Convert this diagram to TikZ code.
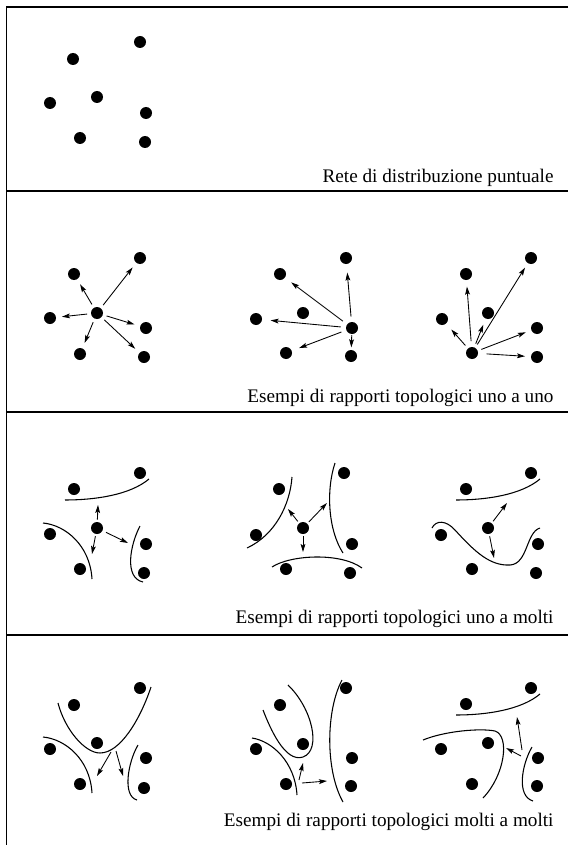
\documentclass[tikz,border=0pt]{standalone}
\usepackage{fontspec}
\setmainfont{Liberation Serif}
\usetikzlibrary{arrows.meta}

\tikzset{every picture/.style={line width=0.75pt}}
\tikzset{
  dot/.style={circle,fill=black,inner sep=0pt,outer sep=0pt,minimum size=9pt},
  arr/.style={line width=0.65pt,-{Stealth[length=6pt,width=3.6pt,inset=1.2pt]},shorten <=3pt,shorten >=4.5pt},
  toline/.style={arr,shorten <=1.8pt,shorten >=0pt},
  free/.style={arr,shorten <=0pt,shorten >=0pt},
  bound/.style={line width=0.8pt},
  caption/.style={anchor=base east,inner sep=0pt,font=\fontsize{14.4}{17}\selectfont}
}

\begin{document}
\begin{tikzpicture}[x=0.75pt,y=0.75pt,yscale=-1]
  \useasboundingbox (0,0) rectangle (568,845);

  %Frame
  \draw [line width=1.3pt] (568,7) -- (6.5,7) -- (6.5,845) ;
  \draw [line width=2pt] (6.5,191) -- (568,191) ;
  \draw [line width=2pt] (6.5,412) -- (568,412) ;
  \draw [line width=2pt] (6.5,635) -- (568,635) ;

  %Panel 1: points
  \node [dot] (ra) at (140,42) {};
  \node [dot] (rb) at (73,59) {};
  \node [dot] (rc) at (50,103) {};
  \node [dot] (rd) at (97,97) {};
  \node [dot] (re) at (146,113) {};
  \node [dot] (rf) at (80,138) {};
  \node [dot] (rg) at (145,142) {};

  %Panel 2: points
  \node [dot] (u1a) at (140,258) {};
  \node [dot] (u1b) at (74,274) {};
  \node [dot] (u1c) at (50,318) {};
  \node [dot] (u1d) at (97,313) {};
  \node [dot] (u1e) at (146,328) {};
  \node [dot] (u1f) at (80,354) {};
  \node [dot] (u1g) at (144,357) {};

  \node [dot] (u2a) at (346,258) {};
  \node [dot] (u2b) at (280,274) {};
  \node [dot] (u2c) at (256,319) {};
  \node [dot] (u2d) at (303,313) {};
  \node [dot] (u2e) at (352,328) {};
  \node [dot] (u2f) at (286,353) {};
  \node [dot] (u2g) at (351,356) {};

  \node [dot] (u3a) at (531,258) {};
  \node [dot] (u3b) at (466,274) {};
  \node [dot] (u3c) at (442,319) {};
  \node [dot] (u3d) at (488,313) {};
  \node [dot] (u3e) at (537,328) {};
  \node [dot] (u3f) at (472,353) {};
  \node [dot] (u3g) at (537,357) {};

  %Panel 2: arrows
  \draw [arr] (u1d) -- (u1a) ;
  \draw [arr] (u1d) -- (u1b) ;
  \draw [arr] (u1d) -- (u1c) ;
  \draw [arr] (u1d) -- (u1e) ;
  \draw [arr] (u1d) -- (u1f) ;
  \draw [arr] (u1d) -- (u1g) ;

  \draw [arr,shorten <=4pt,shorten >=6.5pt] (u2e) -- (u2a) ;
  \draw [arr,shorten <=4pt,shorten >=6pt] (u2e) -- (u2b) ;
  \draw [arr,shorten <=4pt,shorten >=6.5pt] (u2e) -- (u2c) ;
  \draw [arr,shorten <=4pt,shorten >=6pt] (u2e) -- (u2f) ;
  \draw [arr,shorten <=0.8pt,shorten >=2pt] (u2e) -- (u2g) ;

  \draw [arr,shorten >=6pt] (u3f) -- (u3c) ;
  \draw [arr,shorten <=4.5pt,shorten >=5pt] (u3f) -- (u3b) ;
  \draw [arr,shorten >=5pt] (u3f) -- (u3d) ;
  \draw [arr,shorten >=4pt] (u3f) -- (u3a) ;
  \draw [arr] (u3f) -- (u3e) ;
  \draw [arr,shorten <=6.5pt] (u3f) -- (u3g) ;

  %Panel 3: points
  \node [dot] (m1a) at (140,473) {};
  \node [dot] (m1b) at (74,489) {};
  \node [dot] (m1c) at (50,534) {};
  \node [dot] (m1d) at (97,528) {};
  \node [dot] (m1e) at (146,544) {};
  \node [dot] (m1f) at (80,569) {};
  \node [dot] (m1g) at (144,573) {};

  \node [dot] (m2a) at (344,473) {};
  \node [dot] (m2b) at (279,489) {};
  \node [dot] (m2c) at (256,535) {};
  \node [dot] (m2d) at (303,528) {};
  \node [dot] (m2e) at (352,544) {};
  \node [dot] (m2f) at (286,569) {};
  \node [dot] (m2g) at (350,573) {};

  \node [dot] (m3a) at (531,473) {};
  \node [dot] (m3b) at (466,489) {};
  \node [dot] (m3c) at (441,535) {};
  \node [dot] (m3d) at (488,528) {};
  \node [dot] (m3e) at (538,544) {};
  \node [dot] (m3f) at (472,569) {};
  \node [dot] (m3g) at (536,573) {};

  %Panel 3: curves
  \draw [bound] (65,500) .. controls (95,500) and (130,495) .. (149,479) ;
  \draw [bound] (43,523) .. controls (65,525) and (90,545) .. (92,579) ;
  \draw [bound] (140,526) .. controls (130,545) and (124,578) .. (143,582) ;

  \draw [bound] (292,477) .. controls (290,505) and (275,535) .. (247,548) ;
  \draw [bound] (335,463) .. controls (326,490) and (328,530) .. (343,553) ;
  \draw [bound] (272,567) .. controls (290,555) and (340,552) .. (362,568) ;

  \draw [bound] (456,500) .. controls (486,500) and (521,495) .. (540,479) ;
  \draw [bound] (432,528) .. controls (436,520) and (446,520) .. (455,530) .. controls (475,552) and (490,566) .. (510,565) .. controls (528,564) and (526,532) .. (540,528) ;

  %Panel 3: arrows
  \coordinate (m1t1) at (98,505) ;
  \coordinate (m1t2) at (92,554) ;
  \coordinate (m1t3) at (128,543) ;
  \draw [toline] (m1d) -- (m1t1) ;
  \draw [toline] (m1d) -- (m1t2) ;
  \draw [toline,shorten <=3pt] (m1d) -- (m1t3) ;

  \coordinate (m2t1) at (288,509) ;
  \coordinate (m2t2) at (327,503) ;
  \coordinate (m2t3) at (303,552) ;
  \draw [toline] (m2d) -- (m2t1) ;
  \draw [toline] (m2d) -- (m2t2) ;
  \draw [toline] (m2d) -- (m2t3) ;

  \coordinate (m3t1) at (507,503) ;
  \coordinate (m3t2) at (494,558) ;
  \draw [toline] (m3d) -- (m3t1) ;
  \draw [toline] (m3d) -- (m3t2) ;

  %Panel 4: points
  \node [dot] (mm1a) at (140,688) {};
  \node [dot] (mm1b) at (74,705) {};
  \node [dot] (mm1c) at (50,749) {};
  \node [dot] (mm1d) at (97,743) {};
  \node [dot] (mm1e) at (146,758) {};
  \node [dot] (mm1f) at (80,784) {};
  \node [dot] (mm1g) at (144,788) {};

  \node [dot] (mm2a) at (346,688) {};
  \node [dot] (mm2b) at (280,705) {};
  \node [dot] (mm2c) at (256,749) {};
  \node [dot] (mm2d) at (303,744) {};
  \node [dot] (mm2e) at (352,758) {};
  \node [dot] (mm2f) at (286,784) {};
  \node [dot] (mm2g) at (351,786) {};

  \node [dot] (mm3a) at (531,688) {};
  \node [dot] (mm3b) at (466,704) {};
  \node [dot] (mm3c) at (441,749) {};
  \node [dot] (mm3d) at (488,743) {};
  \node [dot] (mm3e) at (538,758) {};
  \node [dot] (mm3f) at (472,784) {};
  \node [dot] (mm3g) at (537,786) {};

  %Panel 4: curves
  \draw [bound] (58,703) .. controls (65,730) and (85,753) .. (100,753) .. controls (120,753) and (140,720) .. (151,687) ;
  \draw [bound] (43,737) .. controls (65,739) and (90,759) .. (92,793) ;
  \draw [bound] (138,745) .. controls (128,762) and (122,796) .. (137,800) ;

  \draw [bound] (288,685) .. controls (312,708) and (322,750) .. (303,757) .. controls (285,763) and (270,728) .. (263,710) ;
  \draw [bound] (252,738) .. controls (272,741) and (295,762) .. (297,795) ;
  \draw [bound] (342,680) .. controls (326,710) and (325,770) .. (343,802) ;

  \draw [bound] (456,715) .. controls (486,715) and (521,710) .. (540,694) ;
  \draw [bound] (423,740) .. controls (445,731) and (480,728) .. (495,731) .. controls (510,736) and (505,775) .. (483,798) ;
  \draw [bound] (532,747) .. controls (522,764) and (516,796) .. (533,801) ;

  %Panel 4: arrows
  \coordinate (mm1s1) at (111,752) ;
  \coordinate (mm1t1) at (97,776) ;
  \coordinate (mm1s2) at (116,751) ;
  \coordinate (mm1t2) at (123,776) ;
  \draw [free] (mm1s1) -- (mm1t1) ;
  \draw [free] (mm1s2) -- (mm1t2) ;

  \coordinate (mm2s1) at (299,780) ;
  \coordinate (mm2t1) at (303,763) ;
  \coordinate (mm2s2) at (302,783) ;
  \coordinate (mm2t2) at (327,781) ;
  \draw [free] (mm2s1) -- (mm2t1) ;
  \draw [free] (mm2s2) -- (mm2t2) ;

  \coordinate (mm3s1) at (522,750) ;
  \coordinate (mm3t1) at (517,717) ;
  \coordinate (mm3s2) at (521,756) ;
  \coordinate (mm3t2) at (506,748) ;
  \draw [free] (mm3s1) -- (mm3t1) ;
  \draw [free] (mm3s2) -- (mm3t2) ;

  % Text Node
  \node [caption] (cap1) at (554,182) {Rete di distribuzione puntuale};
  % Text Node
  \node [caption] (cap2) at (554,402) {Esempi di rapporti topologici uno a uno};
  % Text Node
  \node [caption] (cap3) at (554,623) {Esempi di rapporti topologici uno a molti};
  % Text Node
  \node [caption] (cap4) at (554,826) {Esempi di rapporti topologici molti a molti};

\end{tikzpicture}
\end{document}
